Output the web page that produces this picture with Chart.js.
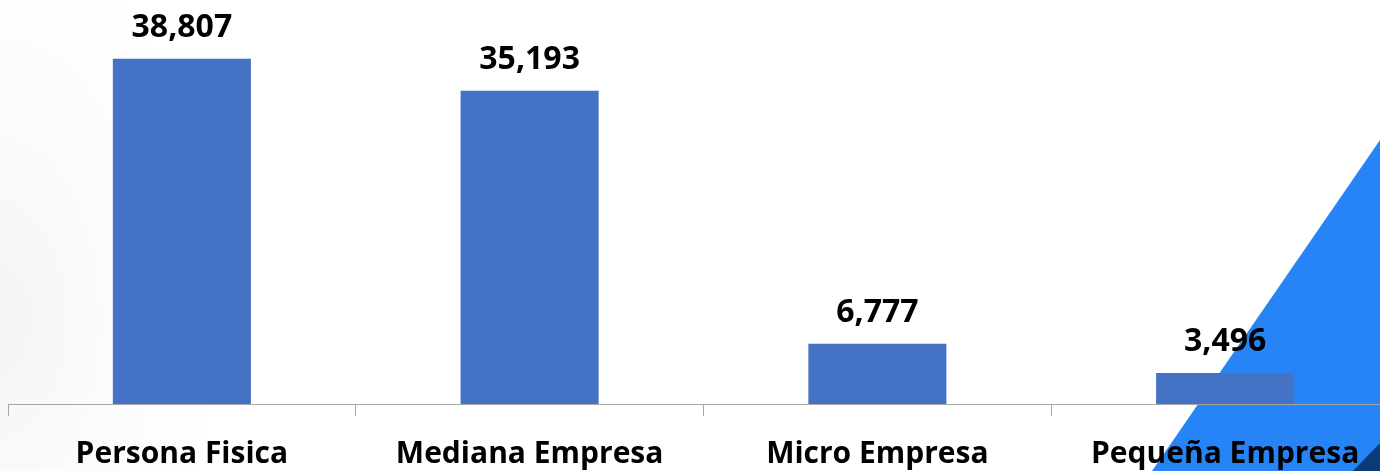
<!DOCTYPE html>
<html>
<head>
<meta charset="utf-8">
<script src="https://cdn.jsdelivr.net/npm/chart.js@4.4.1/dist/chart.umd.min.js"></script>
<style>
  html, body { margin: 0; padding: 0; overflow: hidden; background: #fff; }
  #wrap {
    position: relative;
    width: 1380px;
    height: 471px;
    overflow: hidden;
    background: radial-gradient(ellipse 220px 400px at 0px 320px, #f4f4f4 0%, #fbfbfb 50%, rgba(255,255,255,0) 100%);
  }
  /* decorative shapes behind the chart */
  .tri { position: absolute; left: 0; top: 0; width: 1380px; height: 471px; }
  .tri.blue { background: #2684f7; clip-path: polygon(1380px 140px, 1152px 471px, 1380px 471px); }
  .tri.dark { background: #0c3b79; clip-path: polygon(1380px 443px, 1353px 471px, 1380px 471px); }
  canvas { position: absolute; left: 0; top: 0; }
</style>
</head>
<body>
<div id="wrap">
  <div class="tri blue"></div>
  <div class="tri dark"></div>
  <canvas id="chart" width="1400" height="471"></canvas>
</div>
<script>
const categories = ['Persona Fisica', 'Mediana Empresa', 'Micro Empresa', 'Pequeña Empresa'];
const values = [38807, 35193, 6777, 3496];

// draws the value above each bar
const valueLabels = {
  id: 'valueLabels',
  afterDatasetsDraw(chart) {
    const ctx = chart.ctx;
    const meta = chart.getDatasetMeta(0);
    ctx.save();
    ctx.font = 'bold 32px "Open Sans"';
    ctx.fillStyle = '#000';
    ctx.textAlign = 'center';
    ctx.textBaseline = 'alphabetic';
    meta.data.forEach((bar, i) => {
      ctx.fillText(values[i].toLocaleString('en-US'), bar.x, bar.y - 22);
    });
    ctx.restore();
  }
};

new Chart(document.getElementById('chart'), {
  type: 'bar',
  data: {
    labels: categories,
    datasets: [{
      data: values,
      backgroundColor: '#4472c4',
      borderWidth: 0,
      categoryPercentage: 1,
      barPercentage: 0.397
    }]
  },
  options: {
    responsive: false,
    animation: false,
    layout: { padding: { left: 8, right: 1, top: 0, bottom: 0 } },
    plugins: {
      legend: { display: false },
      tooltip: { enabled: false }
    },
    scales: {
      x: {
        grid: {
          display: true,
          drawOnChartArea: false,
          drawTicks: true,
          tickLength: 12,
          color: '#a6a6a6'
        },
        border: { display: true, color: '#a6a6a6', width: 1 },
        ticks: {
          color: '#000',
          font: { family: 'Open Sans', weight: 'bold', size: 30 },
          padding: 20,
          maxRotation: 0,
          autoSkip: false
        },
        afterFit(scale) { scale.height = 67; }
      },
      y: {
        display: false,
        min: 0,
        max: 45400
      }
    }
  },
  plugins: [valueLabels]
});
</script>
</body>
</html>
